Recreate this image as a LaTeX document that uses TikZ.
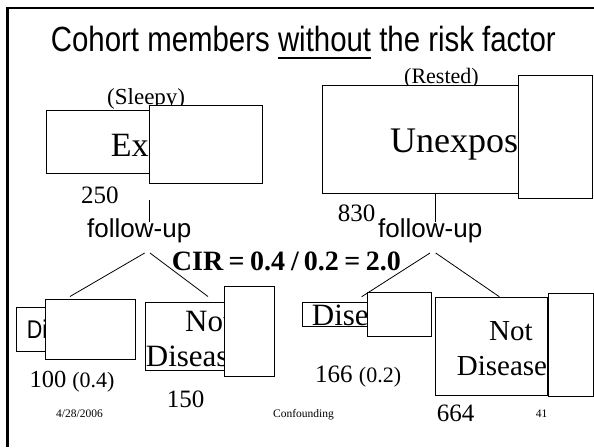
\documentclass[tikz,border=0pt]{standalone}
\usepackage{fontspec}
\setmainfont{Liberation Serif}
\newfontfamily\narrowsans[FakeStretch=0.84]{Liberation Sans}
\newfontfamily\plainsans{Liberation Sans}
\usetikzlibrary{fit}
\newcommand\ulword[1]{\setbox0=\hbox{#1}\rlap{\rule[-7pt]{\wd0}{2pt}}\box0{}}
\tikzset{
  bx/.style={draw=black, fill=white, line width=0.9pt, inner sep=0pt},
  txt/.style={anchor=base west, inner sep=0pt, text=black},
  fs/.style={font=\fontsize{#1}{#1}\selectfont},
  conn/.style={draw=black, line width=0.8pt},
}
\begin{document}
\begin{tikzpicture}[x=1pt, y=-1pt]
\useasboundingbox (0,0) rectangle (594,447);
% frame
\draw[line width=2.5pt] (7.5,447) -- (7.5,8) -- (594,8);
% title
\node[txt, font=\narrowsans\fontsize{35}{40}\selectfont] (title) at (50.7,51.5)
  {Cohort members \ulword{without} the risk factor};
% exposed group
\node[txt, fs=23] (sleepy) at (107,104) {(Sleepy)};
\node[bx, fit={(46,110.7) (200,173)}] (exbig) {};
\node[txt, fs=34] (extext) at (110.7,156) {Exposed};
\node[bx, fit={(149,105.5) (262,183)}] (exsmall) {};
% unexposed group
\node[txt, fs=22] (rested) at (404,83) {(Rested)};
\node[bx, fit={(322.7,85.7) (560,193.3)}] (unbig) {};
\node[txt, fs=36] (untext) at (390,152.7) {Unexposed};
\node[bx, fit={(518,75) (592.5,198)}] (unsmall) {};
% counts
\node[txt, fs=25] (n250) at (81,203) {250};
\node[txt, fs=25] (n830) at (337.7,221.7) {830};
% follow-up
\node[txt, font=\plainsans\fontsize{26}{30}\selectfont] (fuL) at (87,237) {follow-up};
\node[txt, font=\plainsans\fontsize{26}{30}\selectfont] (fuR) at (378,237.3) {follow-up};
\coordinate (vLtop) at (149,200);
\coordinate (vLbot) at (149,222);
\coordinate (vRtop) at (435,193.3);
\coordinate (vRbot) at (435,221.7);
\draw[conn] (vLtop) -- (vLbot);
\draw[conn] (vRtop) -- (vRbot);
% CIR
\node[txt, font=\bfseries\fontsize{28}{32}\selectfont] (cir) at (171.7,270.5)
  {CIR\kern5.5pt=\kern5.5pt0.4\kern6pt/\kern5pt0.2\kern5.5pt=\kern5.5pt2.0};
% tree lines
\coordinate (aL1) at (144.7,253);
\coordinate (aL2) at (150,253);
\coordinate (eL1) at (70,296.5);
\coordinate (eL2) at (208,296.5);
\coordinate (aR1) at (430,253);
\coordinate (aR2) at (435.7,253);
\coordinate (eR1) at (361.7,296.7);
\coordinate (eR2) at (499.3,296.7);
\draw[conn] (aL1) -- (eL1);
\draw[conn] (aL2) -- (eL2);
\draw[conn] (aR1) -- (eR1);
\draw[conn] (aR2) -- (eR2);
% left disease
\node[bx, fit={(16.7,307.3) (120,351)}] (dLbig) {};
\node[txt, font=\narrowsans\fontsize{25.6}{30}\selectfont] (dLtext) at (26.7,338.3) {Disease};
\node[bx, fit={(45.7,299.3) (135,359)}] (dLsmall) {};
% left not disease
\node[bx, fit={(145,302.3) (260,370.7)}] (ndLbig) {};
\node[txt, fs=31] (ndLt1) at (185,331) {Not};
\node[txt, fs=31] (ndLt2) at (145.7,366.7) {Disease};
\node[bx, fit={(224.3,286.7) (274.3,376)}] (ndLsmall) {};
% right disease
\node[bx, fit={(302.7,302.7) (420,326)}] (dRbig) {};
\node[txt, fs=31] (dRtext) at (311.7,325.7) {Disease};
\node[bx, fit={(367.3,292.3) (431.7,336.7)}] (dRsmall) {};
% right not disease
\node[bx, fit={(435.7,297.7) (547,395)}] (ndRbig) {};
\node[txt, fs=29] (ndRt1) at (489,340) {Not};
\node[txt, fs=29] (ndRt2) at (456.7,375) {Disease};
\node[bx, fit={(548.3,293.3) (593.3,396.7)}] (ndRsmall) {};
% numbers
\node[txt, fs=24.5] (n100) at (29.3,387.3) {100 {\fontsize{22}{22}\selectfont(0.4)}};
\node[txt, fs=25] (n150) at (166.7,407.3) {150};
\node[txt, fs=25] (n166) at (315,382.7) {166 {\fontsize{22}{22}\selectfont(0.2)}};
\node[txt, fs=25] (n664) at (436.7,421) {664};
% footer
\node[txt, fs=11.5] (date) at (56,417) {4/28/2006};
\node[txt, fs=11.5] (conf) at (273,417) {Confounding};
\node[txt, fs=11.5] (pg) at (535.7,417) {41};
\end{tikzpicture}
\end{document}
